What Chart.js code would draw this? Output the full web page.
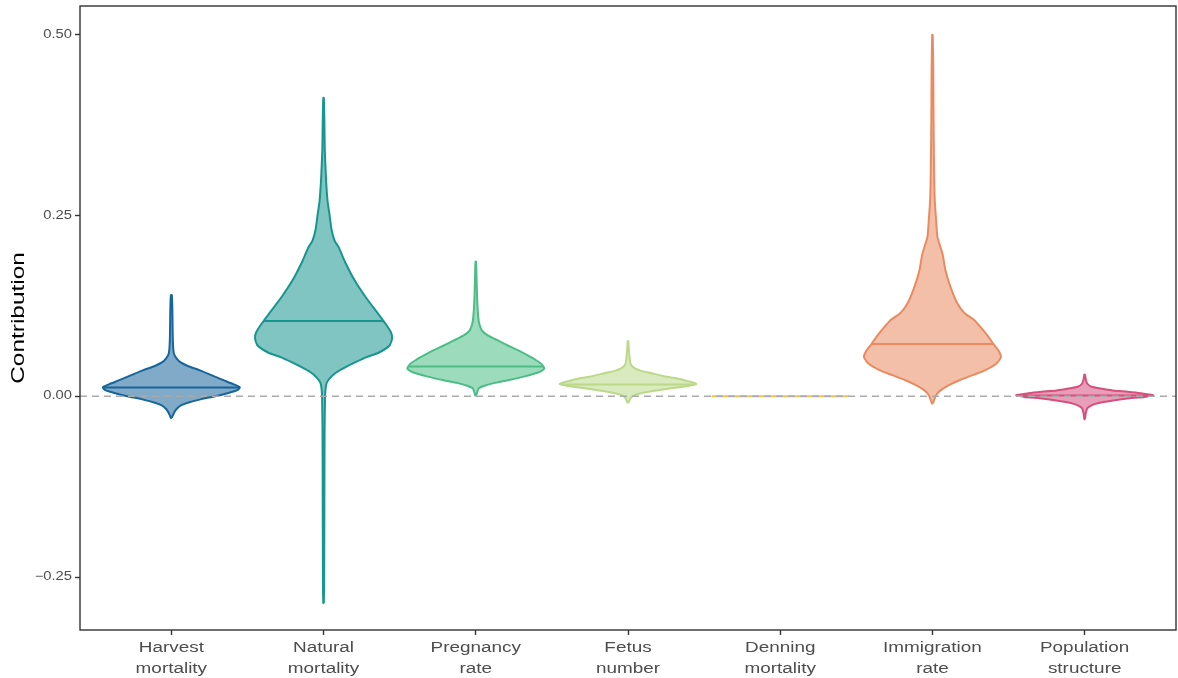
<!DOCTYPE html>
<html>
<head>
<meta charset="utf-8">
<title>Contribution by demographic component</title>
<script src="https://cdn.jsdelivr.net/npm/chart.js@4/dist/chart.umd.min.js"></script>
<style>
  html, body { margin: 0; padding: 0; background: #ffffff; }
  #wrap { width: 1178px; height: 678px; position: relative; }
</style>
</head>
<body>
<div id="wrap"><canvas id="chart"></canvas></div>
<script>
// Component names (two-line axis labels)
const categories = [
  ["Harvest", "mortality"],
  ["Natural", "mortality"],
  ["Pregnancy", "rate"],
  ["Fetus", "number"],
  ["Denning", "mortality"],
  ["Immigration", "rate"],
  ["Population", "structure"]
];

// Y axis ticks
const yTicks = [-0.25, 0, 0.25, 0.5];
const yTickLabels = ["\u22120.25", "0.00", "0.25", "0.50"];

// Median contribution of each component
const medians = [0.012, 0.104, 0.041, 0.016, 0, 0.072, 0.001];

// Violin outlines: contribution levels (ascending) and relative density (% of max width)
const harvestValues  = [-0.030, -0.0235, -0.018, -0.0124, -0.0083, -0.0041, 0.0, 0.0041, 0.0083, 0.0124, 0.0166, 0.0221, 0.029, 0.0359, 0.0414, 0.047, 0.0525, 0.0594, 0.0773, 0.1188, 0.1395];
const harvestDensity = [0.7, 3.6, 7.3, 14.6, 26.3, 43.8, 64.2, 81.8, 96.4, 100, 90.5, 75.9, 58.4, 40.9, 24.8, 13.1, 7.3, 3.6, 2.2, 1.5, 0.7];

const naturalValues  = [-0.286, -0.25, -0.15, -0.05, 0.0, 0.010, 0.018, 0.026, 0.033, 0.040, 0.047, 0.054, 0.060, 0.070, 0.080, 0.088, 0.100, 0.115, 0.137, 0.160, 0.184, 0.206, 0.215, 0.23, 0.25, 0.27, 0.30, 0.34, 0.38, 0.412];
const naturalDensity = [0.4, 0.9, 1.2, 1.5, 2.2, 2.9, 4.4, 10.2, 19, 32.1, 46.7, 62.8, 80.3, 96.4, 100, 98.5, 90.5, 78.8, 61.3, 45.3, 32.1, 21.9, 16.1, 11.7, 8.8, 5.8, 3.6, 1.8, 1.2, 0.4];

const pregnancyValues  = [0.001, 0.006, 0.011, 0.014, 0.018, 0.022, 0.027, 0.033, 0.038, 0.044, 0.050, 0.057, 0.0635, 0.070, 0.077, 0.084, 0.091, 0.100, 0.11, 0.13, 0.16, 0.186];
const pregnancyDensity = [0.7, 2.2, 4.4, 11.7, 26.3, 46.7, 70, 92, 100, 96.4, 87.6, 74.5, 61.3, 46.7, 32.1, 17.5, 8.8, 5.1, 3.6, 2.2, 1.2, 0.4];

const fetusValues  = [-0.009, -0.003, 0.001, 0.004, 0.0075, 0.011, 0.014, 0.017, 0.021, 0.025, 0.028, 0.032, 0.035, 0.039, 0.045, 0.055, 0.065, 0.076];
const fetusDensity = [0.7, 3.6, 8.8, 19, 39.4, 62.8, 87.6, 100, 86.1, 68.6, 51.1, 33.6, 19, 8.8, 3.6, 2.2, 1.2, 0.4];

// Denning mortality contributes nothing in every draw
const denningValues  = [0, 0];
const denningDensity = [100, 100];

const immigrationValues  = [-0.010, -0.004, 0.002, 0.008, 0.015, 0.022, 0.029, 0.036, 0.045, 0.054, 0.063, 0.072, 0.082, 0.094, 0.105, 0.115, 0.128, 0.151, 0.174, 0.197, 0.220, 0.243, 0.27, 0.30, 0.35, 0.40, 0.45, 0.499];
const immigrationDensity = [0.7, 2.9, 5.8, 11.7, 23.4, 39.4, 58.4, 77.4, 93.4, 100, 96.4, 89, 81.8, 71.5, 61.3, 46.7, 36.5, 26.3, 19, 14.6, 7.3, 5.4, 3.4, 2.6, 1.9, 1.5, 1.2, 0.4];

const populationValues  = [-0.032, -0.024, -0.017, -0.014, -0.011, -0.008, -0.0055, -0.003, -0.001, 0.0014, 0.004, 0.006, 0.008, 0.0106, 0.013, 0.0175, 0.024, 0.030];
const populationDensity = [0.4, 1.5, 3.6, 7.3, 14.6, 27.7, 43.8, 65.7, 87.6, 100, 81.8, 62.8, 40.9, 23.4, 10.2, 3.6, 1.5, 0.4];

const colours = ["#17659b", "#17958f", "#4dbd86", "#bcd98a", "#f3c242", "#ea8a60", "#d64f7d"];

const violins = [
  [harvestValues, harvestDensity],
  [naturalValues, naturalDensity],
  [pregnancyValues, pregnancyDensity],
  [fetusValues, fetusDensity],
  [denningValues, denningDensity],
  [immigrationValues, immigrationDensity],
  [populationValues, populationDensity]
];

const HALF_WIDTH = 0.45; // half of the 0.9 violin width, in category units
const LINE_W = 2;

function hexToRgba(hex, a) {
  const n = parseInt(hex.slice(1), 16);
  return `rgba(${(n >> 16) & 255}, ${(n >> 8) & 255}, ${n & 255}, ${a})`;
}

// Density at a given level, linearly interpolated along the outline
function densityAt(values, density, v) {
  if (v <= values[0]) return density[0];
  for (let i = 1; i < values.length; i++) {
    if (v <= values[i]) {
      const t = (v - values[i - 1]) / (values[i] - values[i - 1]);
      return density[i - 1] + t * (density[i] - density[i - 1]);
    }
  }
  return density[density.length - 1];
}

const datasets = [];

// Dashed zero reference line (drawn on top)
datasets.push({
  data: [{ x: 0.4, y: 0 }, { x: 7.6, y: 0 }],
  borderColor: "#aaaaaa",
  borderWidth: 1.6,
  borderDash: [7, 5],
  pointRadius: 0,
  showLine: true,
  fill: false,
  order: 0
});

violins.forEach(([values, density], i) => {
  const centre = i + 1;
  const colour = colours[i];
  const flat = values[0] === values[values.length - 1];

  if (flat) {
    datasets.push({
      data: [
        { x: centre - HALF_WIDTH * density[0] / 100, y: values[0] },
        { x: centre + HALF_WIDTH * density[1] / 100, y: values[1] }
      ],
      borderColor: colour,
      borderWidth: LINE_W,
      pointRadius: 0,
      showLine: true,
      fill: false,
      order: 2
    });
    return;
  }

  // Closed outline: right edge going up, left edge coming down
  const outline = [];
  for (let k = 0; k < values.length; k++) {
    outline.push({ x: centre + HALF_WIDTH * density[k] / 100, y: values[k] });
  }
  for (let k = values.length - 1; k >= 0; k--) {
    outline.push({ x: centre - HALF_WIDTH * density[k] / 100, y: values[k] });
  }
  outline.push(outline[0]);

  datasets.push({
    data: outline,
    borderColor: colour,
    backgroundColor: hexToRgba(colour, 0.55),
    borderWidth: LINE_W,
    borderJoinStyle: "round",
    pointRadius: 0,
    showLine: true,
    tension: 0.2,
    fill: "shape",
    order: 2
  });

  // Median line across the violin
  const m = medians[i];
  const w = HALF_WIDTH * densityAt(values, density, m) / 100;
  datasets.push({
    data: [{ x: centre - w, y: m }, { x: centre + w, y: m }],
    borderColor: colour,
    borderWidth: LINE_W,
    pointRadius: 0,
    showLine: true,
    fill: false,
    order: 1
  });
});

// Full panel border around the plotting area
const panelBorder = {
  id: "panelBorder",
  afterDraw(chart) {
    const { ctx, chartArea: a } = chart;
    ctx.save();
    ctx.strokeStyle = "#333333";
    ctx.lineWidth = 1.4;
    ctx.strokeRect(a.left, a.top, a.right - a.left, a.bottom - a.top);
    ctx.restore();
  }
};

// Axis text is set in a slightly wide face: stretch each glyph run about its anchor
const wideText = {
  id: "wideText",
  beforeDraw(chart) {
    const stretch = { x: { labels: 1.22, title: 1 }, y: { labels: 1.23, title: 1.32 } };
    const ctx = chart.ctx;
    Object.keys(stretch).forEach((id) => {
      const scale = chart.scales[id];
      if (!scale || scale._wide) return;
      const wrap = (fn, sx) => function (...args) {
        const base = CanvasRenderingContext2D.prototype.fillText;
        ctx.fillText = function (text, x, y) {
          this.save();
          this.translate(x, y);
          this.scale(sx, 1);
          base.call(this, text, 0, 0);
          this.restore();
        };
        try { fn.apply(this, args); } finally { delete ctx.fillText; }
      };
      scale.drawLabels = wrap(scale.drawLabels, stretch[id].labels);
      scale.drawTitle = wrap(scale.drawTitle, stretch[id].title);
      scale._wide = true;
    });
  }
};

new Chart(document.getElementById("chart"), {
  type: "scatter",
  data: { datasets },
  plugins: [panelBorder, wideText],
  options: {
    responsive: true,
    maintainAspectRatio: false,
    animation: false,
    layout: { padding: { top: 6, right: 2, left: 0, bottom: 0 } },
    plugins: {
      legend: { display: false },
      tooltip: { enabled: false }
    },
    scales: {
      x: {
        type: "linear",
        min: 0.4,
        max: 7.6,
        afterFit(scale) {
          scale.height = 48;
          scale.paddingLeft = 0;
          scale.paddingRight = 0;
        },
        afterBuildTicks(scale) {
          scale.ticks = categories.map((_, i) => ({ value: i + 1 }));
        },
        grid: {
          display: true,
          drawOnChartArea: false,
          drawTicks: true,
          tickLength: 5,
          tickColor: "#333333",
          tickWidth: 1.4
        },
        border: { display: false },
        ticks: {
          autoSkip: false,
          maxRotation: 0,
          padding: 3,
          color: "#4d4d4d",
          font: { family: "'Liberation Sans', Arial, sans-serif", size: 15.5, lineHeight: 1.3 },
          callback: (v) => categories[Math.round(v) - 1] || ""
        }
      },
      y: {
        type: "linear",
        min: -0.323,
        max: 0.539,
        afterFit(scale) {
          scale.width = 80;
          scale.paddingTop = 0;
          scale.paddingBottom = 0;
        },
        afterBuildTicks(scale) {
          scale.ticks = yTicks.map((v) => ({ value: v }));
        },
        grid: {
          display: true,
          drawOnChartArea: false,
          drawTicks: true,
          tickLength: 5,
          tickColor: "#333333",
          tickWidth: 1.4
        },
        border: { display: false },
        ticks: {
          padding: 3,
          color: "#4d4d4d",
          font: { family: "'Liberation Sans', Arial, sans-serif", size: 12 },
          callback: (v) => {
            const i = yTicks.indexOf(v);
            return i >= 0 ? yTickLabels[i] : "";
          }
        },
        title: {
          display: true,
          text: "Contribution",
          color: "#000000",
          padding: { top: 8, bottom: 0 },
          font: { family: "'Liberation Sans', Arial, sans-serif", size: 18.5 }
        }
      }
    }
  }
});
</script>
</body>
</html>
